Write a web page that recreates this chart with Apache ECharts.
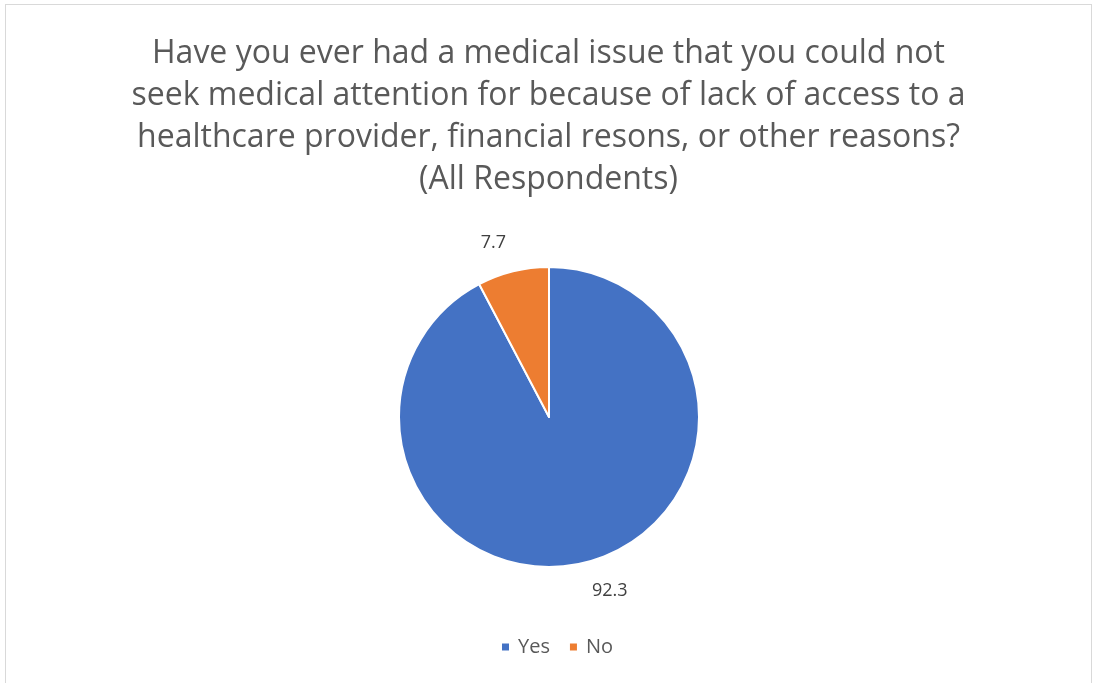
<!DOCTYPE html>
<html>
<head>
<meta charset="utf-8">
<script src="https://cdn.jsdelivr.net/npm/echarts@6/dist/echarts.min.js"></script>
<style>
  html, body { margin: 0; padding: 0; background: #fff; }
  #frame { position: absolute; left: 5px; top: 4px; width: 1087px; height: 700px;
           border: 1px solid #d9d9d9; border-bottom: none; box-sizing: border-box; }
  #chart { position: absolute; left: 0; top: 0; width: 1097px; height: 683px; }
</style>
</head>
<body>
<div id="frame"></div>
<div id="chart"></div>
<script>
const titleLines = [
  'Have you ever had a medical issue that you could not',
  'seek medical attention for because of lack of access to a',
  'healthcare provider, financial resons, or other reasons?',
  '(All Respondents)'
];
const categories = ['Yes', 'No'];
const values = [92.3, 7.7];
const colors = ['#4472C4', '#ED7D31'];

const chart = echarts.init(document.getElementById('chart'), null, { renderer: 'canvas' });
chart.setOption({
  backgroundColor: 'transparent',
  animation: false,
  title: {
    text: titleLines.join('\n'),
    left: 'center',
    top: 28,
    textStyle: {
      fontFamily: 'Open Sans',
      fontSize: 32,
      fontWeight: 'normal',
      color: '#595959',
      lineHeight: 42
    }
  },
  legend: {
    bottom: 21,
    left: 495,
    itemWidth: 9,
    itemHeight: 9,
    itemGap: 18,
    icon: 'rect',
    data: categories,
    textStyle: { fontFamily: 'Open Sans', fontSize: 20, color: '#595959', padding: [0, 0, 0, 3] }
  },
  series: [{
    type: 'pie',
    center: [549, 417],
    radius: 150,
    startAngle: 90,
    clockwise: true,
    itemStyle: { borderColor: '#fff', borderWidth: 2 },
    label: {
      show: true,
      position: 'outside',
      formatter: p => p.value.toFixed(1),
      fontFamily: 'Open Sans',
      fontSize: 18,
      color: '#404040',
      distanceToLabelLine: 0
    },
    labelLine: { show: false, length: 29, length2: 0 },
    data: categories.map((c, i) => ({ name: c, value: values[i], itemStyle: { color: colors[i] } }))
  }]
});
</script>
</body>
</html>
